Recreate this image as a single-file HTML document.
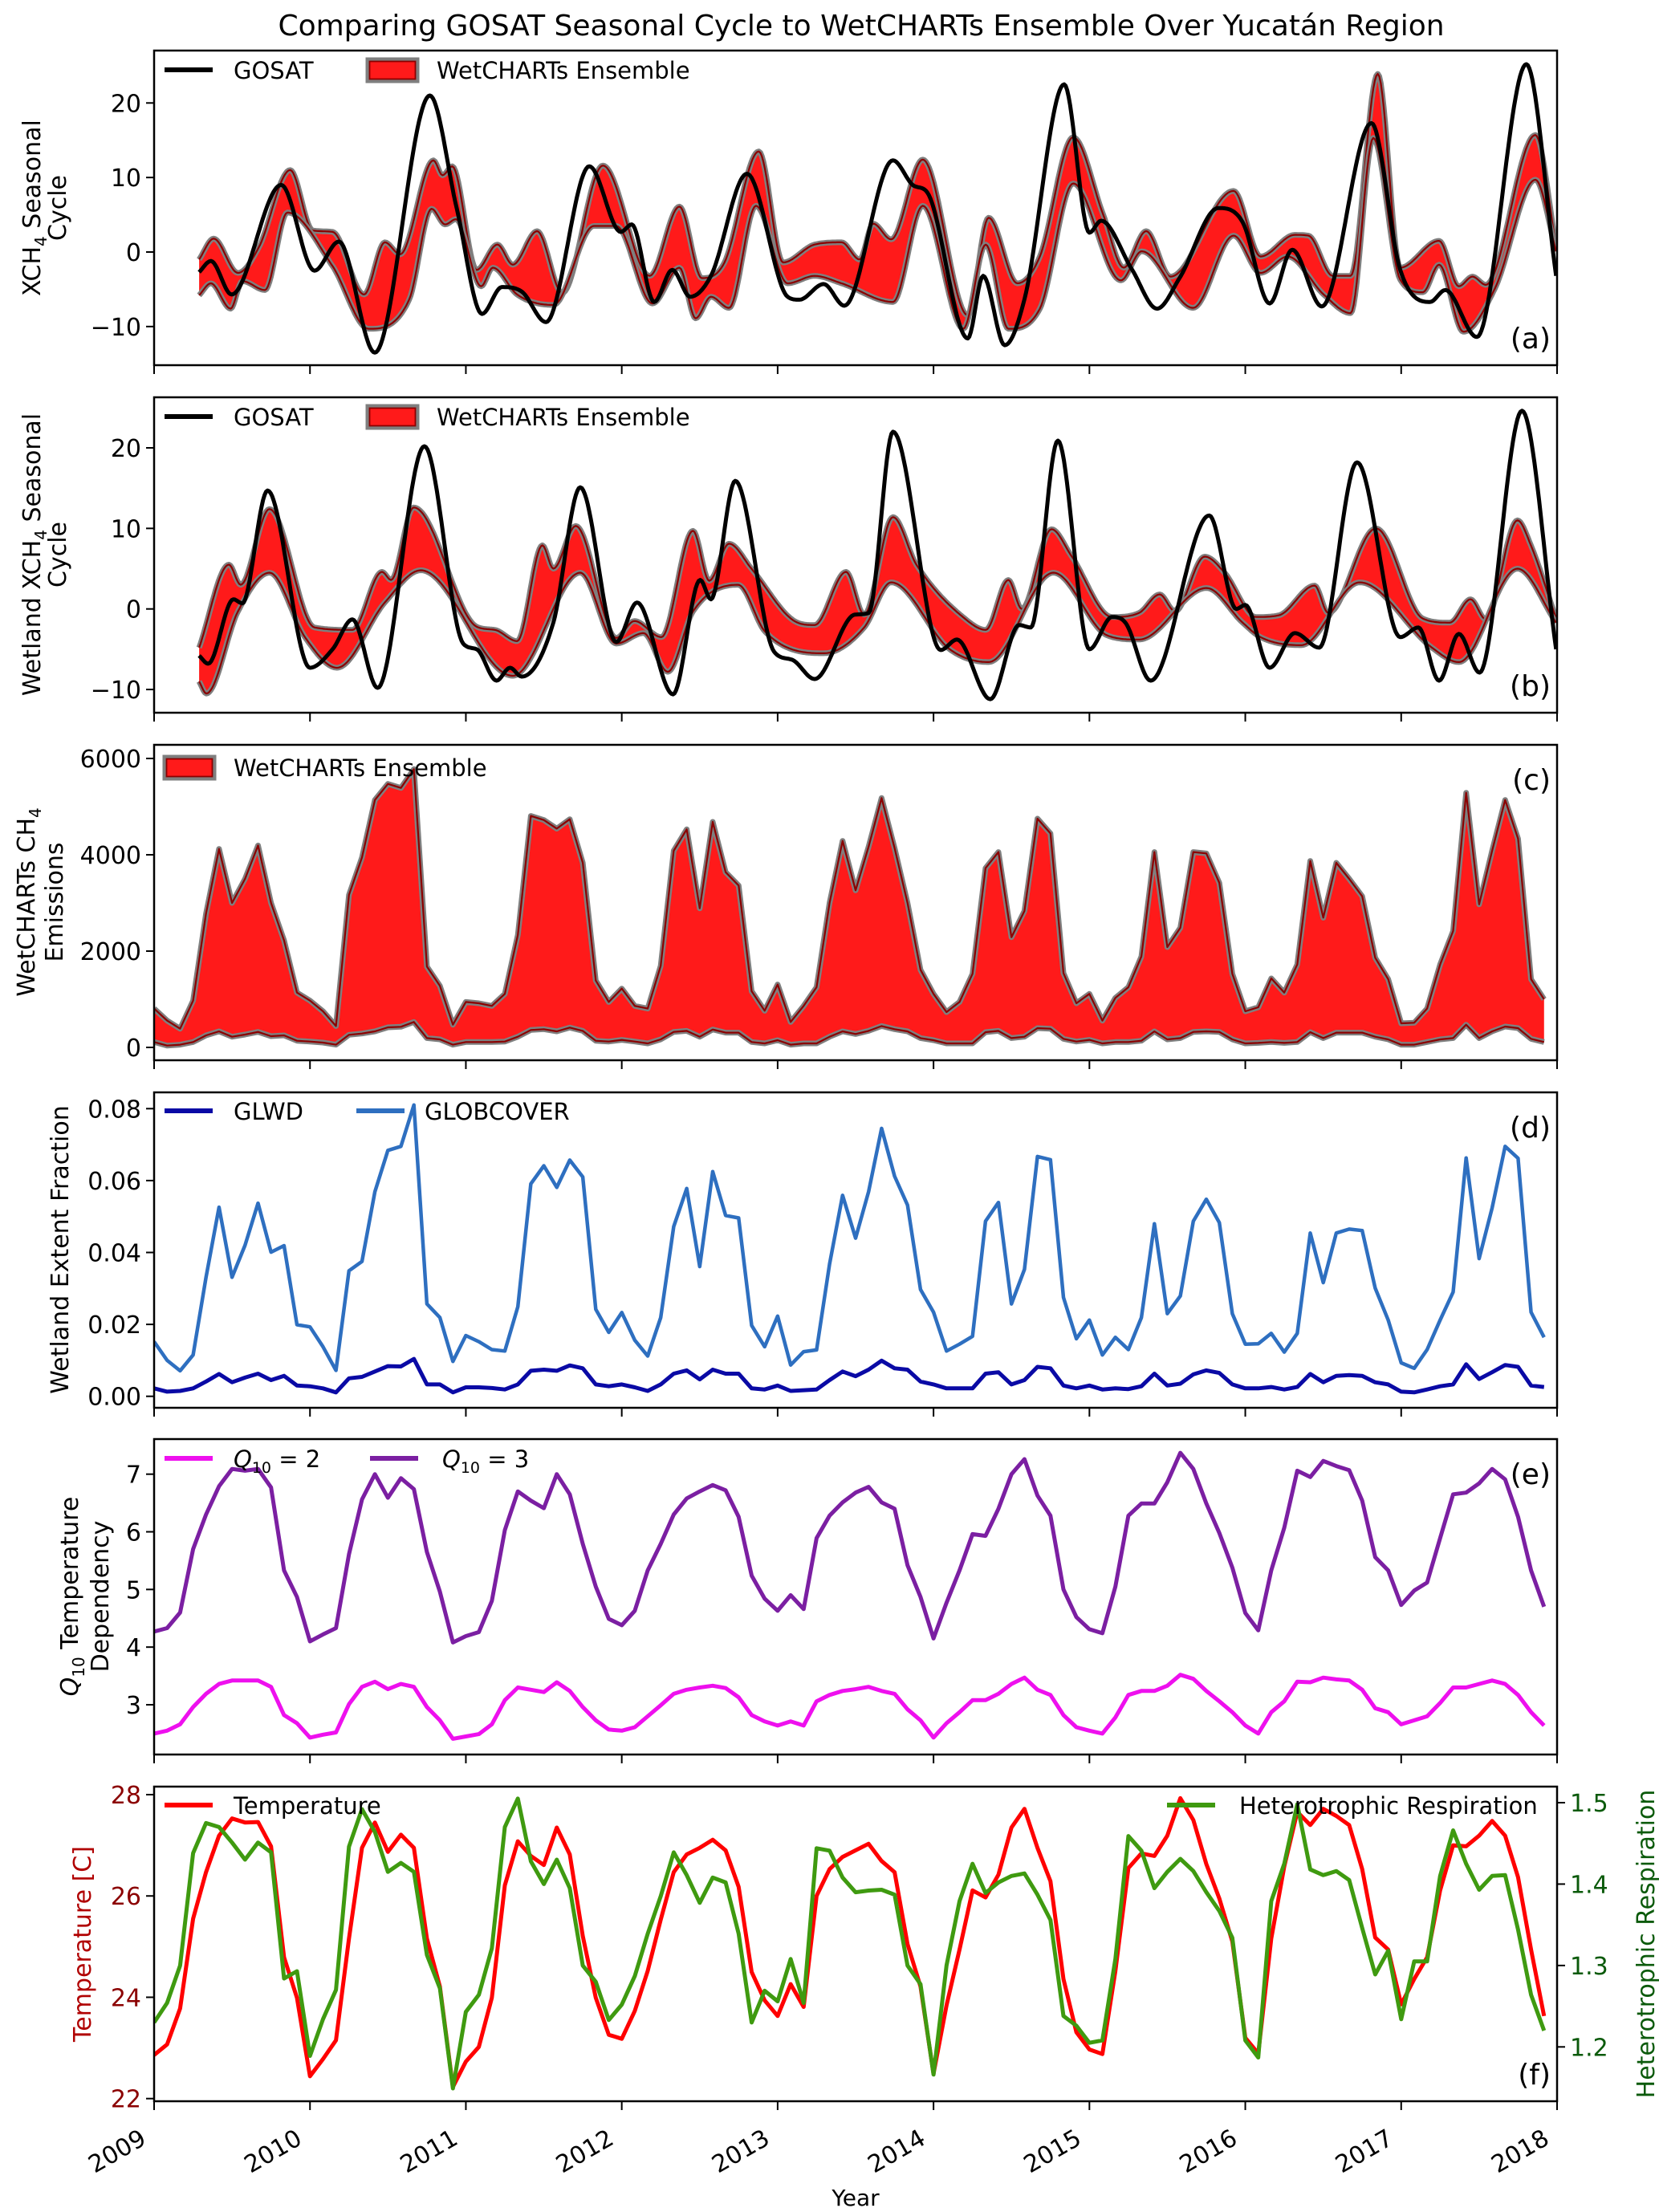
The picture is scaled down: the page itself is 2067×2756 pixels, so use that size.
<!DOCTYPE html>
<html><head><meta charset="utf-8"><title>GOSAT vs WetCHARTs, Yucatán region</title>
<style>
html,body{margin:0;padding:0;background:#fff;}
svg{display:block;font-family:"DejaVu Sans","Liberation Sans",sans-serif;}
</style></head>
<body>
<svg id="fig" xmlns="http://www.w3.org/2000/svg" width="2067" height="2756" viewBox="0 0 2067 2756"></svg>
<script>
// ---------------- DATA ----------------
const years = [2009,2010,2011,2012,2013,2014,2015,2016,2017,2018];
const tickA = [-10,0,10,20];
const tickC = [0,2000,4000,6000];
const tickD = [0,0.02,0.04,0.06,0.08];
const tickE = [3,4,5,6,7];
const tickFL = [22,24,26,28];
const tickFR = [1.2,1.3,1.4,1.5];

// (a) GOSAT seasonal cycle knots (decimal year offset from 2009, value)
const gosatA_t = [.289,.364,.497,.815,1.029,1.185,1.416,1.769,1.942,2.104,2.231,2.358,2.514,2.792,2.994,3.064,3.208,3.324,3.439,3.572,3.803,4.064,4.139,4.295,4.428,4.740,4.873,4.960,5.220,5.318,5.457,5.584,5.838,6.000,6.075,6.272,6.434,6.578,6.827,6.983,7.156,7.301,7.491,7.809,7.994,8.185,8.283,8.486,8.803,8.994];
const gosatA_v = [-2.7,-1.2,-5.7,9.0,-2.5,1.4,-13.5,21.0,5.8,-8.3,-4.7,-5.3,-9.4,11.5,2.7,3.7,-6.7,-2.4,-6.0,-3.2,10.5,-6.0,-6.4,-4.3,-7.2,12.3,8.9,8.0,-11.6,-3.2,-12.5,-6.3,22.5,2.6,4.2,-2.3,-7.6,-3.5,5.9,4.0,-6.9,0.3,-7.3,17.3,-2.4,-6.7,-5.1,-11.4,25.2,-3.2];
const wetAhi_t = [.289,.382,.538,.671,.873,1.017,1.145,1.347,1.480,1.578,1.792,1.850,1.913,2.069,2.202,2.301,2.457,2.618,2.879,3.179,3.370,3.514,3.659,3.879,4.035,4.237,4.410,4.526,4.613,4.728,4.931,5.220,5.353,5.538,5.682,5.896,6.087,6.220,6.364,6.520,6.925,7.098,7.318,7.405,7.561,7.676,7.850,7.994,8.243,8.370,8.457,8.543,8.861,8.994];
const wetAhi_v = [-1.0,1.8,-2.8,0.6,11.0,2.9,2.7,-5.7,1.3,-0.3,12.3,10.3,11.5,-2.4,1.0,-1.7,2.8,-5.5,11.6,-3.2,6.1,-3.5,-1.4,13.5,-1.4,1.0,1.3,-1.0,3.8,1.7,12.4,-8.5,4.6,-4.2,-0.6,15.4,5.1,-2.1,2.8,-3.3,8.2,-0.6,2.3,2.2,-3.2,-3.2,23.9,-2.1,1.5,-4.6,-3.3,-4.4,15.7,0.8];
const wetAlo_t = [.289,.364,.491,.566,.711,.855,1.145,1.376,1.636,1.780,1.867,1.936,2.098,2.173,2.329,2.561,2.821,2.965,3.197,3.370,3.474,3.572,3.688,3.861,4.064,4.237,4.410,4.740,4.931,5.191,5.335,5.480,5.682,5.896,6.202,6.335,6.665,6.925,7.098,7.272,7.503,7.676,7.821,7.994,8.139,8.243,8.399,8.601,8.861,8.994];
const wetAlo_v = [-5.8,-4.2,-7.6,-3.9,-5.1,5.3,-1.9,-10.3,-6.4,5.8,3.7,4.4,-4.6,-2.1,-5.7,-7.1,3.5,3.5,-6.9,-2.1,-8.9,-6.0,-7.5,6.2,-4.2,-3.2,-4.2,-6.7,6.2,-10.3,1.0,-10.3,-7.6,9.2,-3.8,0.1,-7.5,2.2,-2.8,-0.6,-5.7,-8.2,15.3,-3.7,-5.4,-1.7,-10.7,-4.9,9.7,0.1];

// (b) wetland-only seasonal cycle knots
const gosatB_t = [.289,.347,.509,.566,.728,1.000,1.145,1.272,1.434,1.734,1.983,2.069,2.197,2.283,2.358,2.561,2.734,2.965,3.098,3.329,3.503,3.572,3.728,3.977,4.092,4.237,4.497,4.584,4.740,5.046,5.150,5.364,5.549,5.624,5.798,6.000,6.145,6.231,6.393,6.769,6.942,7.000,7.156,7.318,7.474,7.717,7.994,8.110,8.243,8.370,8.503,8.775,8.994];
const gosatB_v = [-5.8,-6.8,1.2,0.7,14.7,-7.3,-5.0,-1.3,-9.8,20.2,-4.3,-5.0,-8.9,-7.3,-8.4,-1.7,15.1,-4.1,0.8,-10.6,3.6,1.2,15.9,-5.3,-6.3,-8.7,-0.7,-0.5,22.0,-5.1,-3.8,-11.2,-2.0,-2.3,20.9,-5.0,-1.0,-1.7,-8.9,11.6,0.0,0.5,-7.3,-3.0,-4.8,18.2,-3.5,-2.3,-8.9,-3.1,-7.9,24.6,-5.0];
const wetBhi_t = [.289,.480,.555,.740,1.029,1.272,1.462,1.520,1.665,2.069,2.185,2.329,2.491,2.561,2.705,2.965,3.081,3.254,3.457,3.561,3.688,3.832,4.092,4.237,4.439,4.555,4.740,4.890,5.220,5.335,5.480,5.566,5.757,5.884,6.145,6.318,6.451,6.549,6.740,6.867,7.069,7.214,7.445,7.532,7.838,8.139,8.312,8.445,8.543,8.746,8.832,8.994];
const wetBhi_v = [-4.8,5.5,3.0,12.4,-2.3,-2.6,4.6,3.6,12.6,-2.2,-2.6,-4.0,7.9,5.0,10.3,-3.6,-1.5,-3.5,9.7,3.5,8.1,5.0,-1.3,-2.0,4.6,-0.7,11.4,5.5,-1.5,-2.6,3.6,0.0,9.9,6.6,-1.0,-0.5,1.8,-0.3,6.5,4.5,-1.0,-0.8,2.9,-0.5,10.0,-1.2,-1.7,1.2,-1.3,11.0,7.9,-1.2];
const wetBlo_t = [.289,.335,.538,.740,.971,1.173,1.480,1.711,2.301,2.734,2.965,3.139,3.295,3.457,3.746,3.919,4.295,4.555,4.728,5.104,5.353,5.769,6.116,6.318,6.751,6.983,7.098,7.358,7.734,8.197,8.370,8.746,8.994];
const wetBlo_v = [-9.0,-10.5,-0.3,4.5,-3.6,-7.3,0.8,4.8,-8.3,4.5,-4.3,-3.0,-7.8,-0.3,3.0,-2.8,-5.5,-2.3,3.3,-5.0,-6.6,4.5,-3.3,-3.8,2.6,-1.7,-3.5,-4.5,3.3,-4.8,-6.6,5.0,-1.7];

// (c) WetCHARTs CH4 emissions, monthly Jan 2009 - Dec 2017
const emisHi = [806,556,389,972,2778,4122,3000,3500,4194,3000,2222,1139,972,750,444,3167,3944,5139,5472,5389,5778,1678,1278,472,944,917,861,1111,2333,4806,4722,4544,4739,3833,1389,944,1222,861,806,1694,4083,4528,2889,4683,3639,3361,1167,761,1306,528,861,1250,3000,4289,3261,4167,5178,4139,3000,1611,1111,733,944,1528,3722,4056,2289,2833,4750,4444,1544,917,1111,556,1028,1250,1889,4056,2083,2483,4056,4028,3417,1528,750,833,1433,1139,1722,3872,2694,3833,3500,3139,1861,1417,500,511,806,1722,2417,5289,2972,4083,5139,4333,1417,1000];
const emisLo = [111,39,56,111,250,333,222,267,322,233,250,139,122,100,56,261,289,333,417,428,528,194,167,56,111,111,111,122,222,361,378,333,411,344,139,122,156,122,83,167,322,344,222,372,306,306,111,83,150,56,83,83,222,333,278,344,444,378,333,194,150,83,83,83,317,344,194,222,400,389,178,122,156,83,111,111,139,333,167,194,322,333,322,167,83,94,111,94,111,317,194,306,306,306,222,167,56,56,111,167,194,472,194,333,433,400,178,111];

// (d) wetland extent fraction
const glwd = [.0022,.0013,.0015,.0022,.0041,.0062,.0039,.0052,.0063,.0045,.0057,.0030,.0028,.0022,.0011,.0050,.0054,.0069,.0084,.0083,.0104,.0033,.0033,.0011,.0025,.0025,.0023,.0019,.0033,.0071,.0074,.0071,.0086,.0078,.0033,.0028,.0033,.0025,.0015,.0033,.0063,.0072,.0047,.0074,.0063,.0063,.0022,.0019,.0030,.0015,.0017,.0019,.0045,.0069,.0056,.0074,.0099,.0078,.0074,.0041,.0033,.0022,.0022,.0022,.0063,.0067,.0033,.0045,.0082,.0078,.0030,.0022,.0030,.0019,.0022,.0020,.0028,.0063,.0030,.0035,.0061,.0072,.0065,.0033,.0022,.0022,.0026,.0019,.0026,.0062,.0039,.0057,.0059,.0057,.0039,.0033,.0013,.0011,.0019,.0028,.0033,.0089,.0048,.0067,.0087,.0082,.0030,.0026];
const globcover = [.0152,.0100,.0071,.0115,.0331,.0526,.0331,.0420,.0537,.0401,.0419,.0199,.0193,.0138,.0072,.0349,.0375,.0569,.0684,.0695,.0810,.0257,.0219,.0097,.0169,.0152,.0130,.0126,.0249,.0591,.0641,.0581,.0657,.0610,.0242,.0178,.0233,.0156,.0112,.0219,.0472,.0578,.0361,.0625,.0503,.0496,.0197,.0138,.0223,.0087,.0124,.0129,.0368,.0559,.0440,.0569,.0745,.0612,.0532,.0297,.0234,.0126,.0145,.0167,.0487,.0539,.0257,.0353,.0667,.0658,.0275,.0160,.0212,.0115,.0164,.0130,.0219,.0480,.0230,.0279,.0487,.0548,.0483,.0230,.0145,.0146,.0175,.0123,.0175,.0454,.0316,.0454,.0465,.0461,.0301,.0212,.0093,.0078,.0130,.0212,.0290,.0663,.0383,.0524,.0695,.0662,.0234,.0164];

// (e) Q10 temperature dependency
const q10_2 = [2.50,2.55,2.66,2.96,3.19,3.36,3.42,3.42,3.42,3.31,2.82,2.68,2.43,2.48,2.52,3.01,3.31,3.40,3.27,3.36,3.31,2.96,2.73,2.41,2.45,2.49,2.66,3.08,3.30,3.26,3.22,3.39,3.24,2.96,2.73,2.57,2.55,2.61,2.80,2.99,3.19,3.26,3.30,3.33,3.29,3.13,2.82,2.71,2.64,2.71,2.64,3.06,3.17,3.24,3.27,3.31,3.24,3.19,2.92,2.73,2.43,2.68,2.87,3.08,3.08,3.19,3.36,3.47,3.26,3.17,2.82,2.61,2.55,2.50,2.78,3.17,3.24,3.24,3.33,3.52,3.45,3.24,3.06,2.87,2.64,2.50,2.87,3.06,3.40,3.39,3.47,3.44,3.42,3.26,2.94,2.87,2.66,2.73,2.80,3.03,3.30,3.30,3.36,3.42,3.36,3.17,2.87,2.64];
const q10_3 = [4.27,4.33,4.60,5.70,6.30,6.79,7.09,7.06,7.09,6.77,5.33,4.87,4.10,4.22,4.33,5.61,6.56,7.00,6.59,6.93,6.74,5.65,4.96,4.08,4.19,4.26,4.80,6.03,6.70,6.54,6.41,7.00,6.65,5.79,5.05,4.49,4.38,4.63,5.33,5.79,6.30,6.58,6.70,6.81,6.72,6.26,5.24,4.84,4.63,4.90,4.66,5.89,6.28,6.51,6.68,6.78,6.51,6.40,5.42,4.87,4.15,4.77,5.33,5.96,5.93,6.40,7.00,7.26,6.63,6.28,5.00,4.52,4.31,4.24,5.05,6.28,6.49,6.49,6.86,7.37,7.09,6.49,5.98,5.38,4.59,4.29,5.33,6.07,7.06,6.95,7.23,7.14,7.07,6.54,5.56,5.33,4.73,4.98,5.12,5.89,6.65,6.68,6.84,7.09,6.91,6.26,5.33,4.70];

// (f) temperature and heterotrophic respiration
const temperature = [22.86,23.07,23.78,25.55,26.47,27.19,27.53,27.45,27.46,26.98,24.79,23.99,22.44,22.78,23.15,25.16,26.95,27.45,26.87,27.21,26.95,25.16,24.21,22.23,22.73,23.02,23.99,26.21,27.08,26.79,26.61,27.35,26.82,25.21,23.99,23.26,23.18,23.73,24.52,25.53,26.47,26.82,26.95,27.11,26.90,26.18,24.50,23.94,23.63,24.26,23.81,26.00,26.53,26.77,26.90,27.03,26.69,26.47,25.05,24.21,22.49,23.84,24.94,26.11,25.97,26.42,27.35,27.72,26.95,26.29,24.36,23.31,22.97,22.88,24.52,26.55,26.84,26.79,27.19,27.93,27.50,26.63,25.95,25.10,23.20,22.89,25.16,26.58,27.66,27.40,27.72,27.58,27.40,26.53,25.18,24.94,23.86,24.36,24.79,26.11,27.00,26.98,27.19,27.48,27.19,26.37,24.94,23.63];
const respiration = [1.230,1.254,1.300,1.438,1.475,1.470,1.451,1.430,1.451,1.439,1.284,1.293,1.189,1.234,1.270,1.446,1.492,1.464,1.415,1.426,1.415,1.313,1.272,1.149,1.243,1.264,1.321,1.470,1.505,1.428,1.400,1.430,1.395,1.300,1.280,1.233,1.252,1.287,1.339,1.385,1.439,1.411,1.377,1.408,1.402,1.339,1.230,1.269,1.256,1.308,1.254,1.444,1.441,1.408,1.390,1.392,1.393,1.387,1.300,1.277,1.166,1.300,1.379,1.425,1.389,1.402,1.410,1.413,1.387,1.356,1.238,1.226,1.205,1.208,1.308,1.459,1.441,1.395,1.415,1.431,1.416,1.390,1.367,1.334,1.208,1.187,1.379,1.425,1.498,1.418,1.411,1.416,1.405,1.346,1.289,1.318,1.234,1.305,1.305,1.410,1.466,1.425,1.393,1.410,1.411,1.344,1.264,1.220];

// ---------------- DRAWING ----------------
const NS = "http://www.w3.org/2000/svg";
const svg = document.getElementById('fig');
const XL = 192, XR = 1940;
function xOf(t){ return XL + (t - 2009) / 9 * (XR - XL); }
function lin(v1, p1, v2, p2){ return v => p1 + (v - v1) * (p2 - p1) / (v2 - v1); }
function el(tag, attrs, parent){
  const e = document.createElementNS(NS, tag);
  for (const k in attrs) e.setAttribute(k, attrs[k]);
  (parent || svg).appendChild(e);
  return e;
}
const monthT = emisHi.map((_, i) => 2009 + i / 12);

const panels = [
  {id:'a', top:63,   bot:455,  y: lin(20,128.3,0,314)},
  {id:'b', top:495,  bot:888,  y: lin(20,558,0,758.7)},
  {id:'c', top:928,  bot:1321, y: lin(6000,945,0,1305)},
  {id:'d', top:1361, bot:1754, y: lin(0.08,1381.3,0,1739.7)},
  {id:'e', top:1793, bot:2186, y: lin(7,1836.7,3,2124)},
  {id:'f', top:2226, bot:2618, y: lin(28,2236,22,2614.7)}
];
const yFR = lin(1.5,2246,1.2,2550.3);

const defs = el('defs', {});
panels.forEach(p => {
  const cp = el('clipPath', {id:'clip-' + p.id}, defs);
  el('rect', {x:XL, y:p.top, width:XR-XL, height:p.bot-p.top}, cp);
});

function monoSample(xs, ys, step){
  const n = xs.length, d = [], m = new Array(n).fill(0);
  for (let k = 0; k < n-1; k++) d.push((ys[k+1]-ys[k])/(xs[k+1]-xs[k]));
  m[0] = d[0]; m[n-1] = d[n-2];
  for (let k = 1; k < n-1; k++) m[k] = (d[k-1]*d[k] <= 0) ? 0 : (d[k-1]+d[k])/2;
  for (let k = 0; k < n-1; k++){
    if (d[k] === 0){ m[k] = 0; m[k+1] = 0; continue; }
    const a = m[k]/d[k], b = m[k+1]/d[k], s = a*a + b*b;
    if (s > 9){ const tau = 3/Math.sqrt(s); m[k] = tau*a*d[k]; m[k+1] = tau*b*d[k]; }
  }
  const out = [];
  for (let k = 0; k < n-1; k++){
    const h = xs[k+1]-xs[k];
    const steps = Math.max(2, Math.ceil(h/step));
    for (let j = 0; j < steps; j++){
      const t = j/steps, t2 = t*t, t3 = t2*t;
      const v = (2*t3-3*t2+1)*ys[k] + (t3-2*t2+t)*h*m[k] + (-2*t3+3*t2)*ys[k+1] + (t3-t2)*h*m[k+1];
      out.push([xs[k] + t*h, v]);
    }
  }
  out.push([xs[n-1], ys[n-1]]);
  return out;
}
function pts2path(pts, y){ return pts.map((p,i)=>(i?'L':'M')+xOf(p[0]).toFixed(1)+','+y(p[1]).toFixed(1)).join(''); }
function absT(arr){ return arr.map(t => 2009 + t); }

function band(p, hiT, hiV, loT, loV, name){
  const hi = monoSample(absT(hiT), hiV, 0.01);
  const lo = monoSample(absT(loT), loV, 0.01);
  const g = el('g', {'clip-path':'url(#clip-'+p.id+')'});
  
  
  const d = pts2path(hi, p.y) + pts2path(lo.slice().reverse(), p.y).replace('M','L') + 'Z';
  const f = el('path', {d:d, fill:'#ff1a1a', stroke:'none'}, g);
  
  
  [hi, lo].forEach(arr => {
    el('path', {d:pts2path(arr, p.y), fill:'none', stroke:'#7f7f7f', 'stroke-width':7, 'stroke-linejoin':'round'}, g);
    el('path', {d:pts2path(arr, p.y), fill:'none', stroke:'#8b0000', 'stroke-width':2.2, 'stroke-linejoin':'round'}, g);
  });
}
function smoothLine(p, ts, vs, color, w, name){
  const pts = monoSample(absT(ts), vs, 0.01);
  const e = el('path', {d:pts2path(pts, p.y), fill:'none', stroke:color, 'stroke-width':w, 'stroke-linejoin':'round', 'clip-path':'url(#clip-'+p.id+')'});
  
  
}
function monthLine(p, vals, y, color, w, name){
  const d = vals.map((v,i)=>(i?'L':'M')+xOf(monthT[i]).toFixed(1)+','+y(v).toFixed(1)).join('');
  const e = el('path', {d:d, fill:'none', stroke:color, 'stroke-width':w, 'stroke-linejoin':'round', 'clip-path':'url(#clip-'+p.id+')'});
  
  
}
function monthBand(p, hi, lo, name){
  const g = el('g', {'clip-path':'url(#clip-'+p.id+')'});
  
  
  let d = hi.map((v,i)=>(i?'L':'M')+xOf(monthT[i]).toFixed(1)+','+p.y(v).toFixed(1)).join('');
  for (let i = lo.length-1; i >= 0; i--) d += 'L'+xOf(monthT[i]).toFixed(1)+','+p.y(lo[i]).toFixed(1);
  el('path', {d:d+'Z', fill:'#ff1a1a'}, g);
  [hi, lo].forEach(arr => {
    const dd = arr.map((v,i)=>(i?'L':'M')+xOf(monthT[i]).toFixed(1)+','+p.y(v).toFixed(1)).join('');
    el('path', {d:dd, fill:'none', stroke:'#7f7f7f', 'stroke-width':7, 'stroke-linejoin':'round'}, g);
    el('path', {d:dd, fill:'none', stroke:'#8b0000', 'stroke-width':2.2, 'stroke-linejoin':'round'}, g);
  });
}
function txt(x, y, s, attrs, name){
  const a = Object.assign({x:x, y:y, 'font-size':30, fill:'#000'}, attrs || {});
  const e = el('text', a);
  e.textContent = s;
  
  
  return e;
}
function yTicks(p, ticks, fmt, color){
  ticks.forEach(v => {
    const y = p.y(v);
    el('line', {x1:XL-10, y1:y, x2:XL, y2:y, stroke:'#000', 'stroke-width':2});
    txt(XL-16, y+11, fmt(v), {'text-anchor':'end', fill: color || '#000'}, 'y-tick-label-' + p.id);
  });
}
function xTicks(p, labels){
  years.forEach(yr => {
    const x = xOf(yr);
    el('line', {x1:x, y1:p.bot, x2:x, y2:p.bot+11, stroke:'#000', 'stroke-width':2});
    if (labels){
      txt(0, 0, String(yr), {'text-anchor':'end', transform:'translate('+(x-8)+','+(p.bot+52)+') rotate(-30)'}, 'x-tick-label');
    }
  });
}
function frame(p){
  const r = el('rect', {x:XL, y:p.top, width:XR-XL, height:p.bot-p.top, fill:'none', stroke:'#000', 'stroke-width':2.5});
  
  
}
function legLine(x1, y, color, w, name){
  const e = el('line', {x1:x1, y1:y, x2:x1+60, y2:y, stroke:color, 'stroke-width':w});
  
  
}
function legPatch(x1, y, name){
  const e = el('rect', {x:x1, y:y-13, width:62, height:27, fill:'#ff1a1a', stroke:'#7f7f7f', 'stroke-width':5});
  
  
  el('rect', {x:x1+2.5, y:y-10.5, width:57, height:22, fill:'none', stroke:'#8b0000', 'stroke-width':1.8});
}
function panelLetter(p, s, atTop){
  txt(1932, atTop ? p.top+56 : p.bot-21, s, {'text-anchor':'end', 'font-size':36}, 'panel-label-' + p.id);
}
function rotLabel(cx, cy, parts, color, name){
  const t = el('text', {transform:'translate('+cx+','+cy+') rotate(-90)', 'text-anchor':'middle', 'font-size':30, fill:color||'#000'});
  
  
  parts.forEach(pt => {
    const s = el('tspan', pt.a || {}, t);
    s.textContent = pt.s;
  });
  return t;
}
const fmtInt = v => (v < 0 ? '\u2212' : '') + Math.abs(v);
const LF = 29;

txt(1073, 44, 'Comparing GOSAT Seasonal Cycle to WetCHARTs Ensemble Over Yucatán Region', {'text-anchor':'middle', 'font-size':36}, 'chart-title');

// ---- (a)
const pa = panels[0];
band(pa, wetAhi_t, wetAhi_v, wetAlo_t, wetAlo_v, 'wetcharts-band-a');
smoothLine(pa, gosatA_t, gosatA_v, '#000', 5, 'gosat-line-a');
frame(pa); yTicks(pa, tickA, fmtInt); xTicks(pa, false);
legLine(205, 87, '#000', 6, 'legend-gosat-a'); txt(291, 98, 'GOSAT', {'font-size':LF}, 'legend-text-gosat-a');
legPatch(458, 87, 'legend-wetcharts-a'); txt(544, 98, 'WetCHARTs Ensemble', {'font-size':LF}, 'legend-text-wetcharts-a');
panelLetter(pa, '(a)', false);
rotLabel(50, 259, [{s:'XCH'},{s:'4', a:{'font-size':20, dy:8}},{s:' Seasonal', a:{dy:-8}}], '#000', 'y-axis-title-a');
rotLabel(82, 259, [{s:'Cycle'}], '#000', 'y-axis-title-a-2');

// ---- (b)
const pb = panels[1];
band(pb, wetBhi_t, wetBhi_v, wetBlo_t, wetBlo_v, 'wetcharts-band-b');
smoothLine(pb, gosatB_t, gosatB_v, '#000', 5, 'gosat-line-b');
frame(pb); yTicks(pb, tickA, fmtInt); xTicks(pb, false);
legLine(205, 519, '#000', 6, 'legend-gosat-b'); txt(291, 530, 'GOSAT', {'font-size':LF}, 'legend-text-gosat-b');
legPatch(458, 519, 'legend-wetcharts-b'); txt(544, 530, 'WetCHARTs Ensemble', {'font-size':LF}, 'legend-text-wetcharts-b');
panelLetter(pb, '(b)', false);
rotLabel(50, 691, [{s:'Wetland XCH'},{s:'4', a:{'font-size':20, dy:8}},{s:' Seasonal', a:{dy:-8}}], '#000', 'y-axis-title-b');
rotLabel(82, 691, [{s:'Cycle'}], '#000', 'y-axis-title-b-2');

// ---- (c)
const pc = panels[2];
monthBand(pc, emisHi, emisLo, 'wetcharts-emissions-band');
frame(pc); yTicks(pc, tickC, v => String(v)); xTicks(pc, false);
legPatch(205, 956, 'legend-wetcharts-c'); txt(291, 967, 'WetCHARTs Ensemble', {'font-size':LF}, 'legend-text-wetcharts-c');
panelLetter(pc, '(c)', true);
rotLabel(43, 1124, [{s:'WetCHARTs CH'},{s:'4', a:{'font-size':20, dy:8}}], '#000', 'y-axis-title-c');
rotLabel(78, 1124, [{s:'Emissions'}], '#000', 'y-axis-title-c-2');

// ---- (d)
const pd = panels[3];
monthLine(pd, globcover, pd.y, '#2e6fc0', 4.5, 'globcover-line');
monthLine(pd, glwd, pd.y, '#0a0aa5', 5, 'glwd-line');
frame(pd); yTicks(pd, tickD, v => v.toFixed(2)); xTicks(pd, false);
legLine(205, 1384, '#0a0aa5', 6, 'legend-glwd'); txt(291, 1395, 'GLWD', {'font-size':LF}, 'legend-text-glwd');
legLine(444, 1384, '#2e6fc0', 6, 'legend-globcover'); txt(529, 1395, 'GLOBCOVER', {'font-size':LF}, 'legend-text-globcover');
panelLetter(pd, '(d)', true);
rotLabel(85, 1557, [{s:'Wetland Extent Fraction'}], '#000', 'y-axis-title-d');

// ---- (e)
const pe = panels[4];
monthLine(pe, q10_3, pe.y, '#7b1fa2', 5, 'q10-3-line');
monthLine(pe, q10_2, pe.y, '#ee10ee', 5, 'q10-2-line');
frame(pe); yTicks(pe, tickE, v => String(v)); xTicks(pe, false);
legLine(205, 1817, '#ee10ee', 6, 'legend-q10-2');
(function(){
  const t = el('text', {x:291, y:1828, 'font-size':LF});
  
  
  const a = el('tspan', {'font-style':'italic'}, t); a.textContent = 'Q';
  const b = el('tspan', {'font-size':19, dy:7}, t); b.textContent = '10';
  const c = el('tspan', {dy:-7}, t); c.textContent = ' = 2';
})();
legLine(461, 1817, '#7b1fa2', 6, 'legend-q10-3');
(function(){
  const t = el('text', {x:551, y:1828, 'font-size':LF});
  
  
  const a = el('tspan', {'font-style':'italic'}, t); a.textContent = 'Q';
  const b = el('tspan', {'font-size':19, dy:7}, t); b.textContent = '10';
  const c = el('tspan', {dy:-7}, t); c.textContent = ' = 3';
})();
panelLetter(pe, '(e)', true);
rotLabel(97, 1989, [{s:'Q', a:{'font-style':'italic'}},{s:'10', a:{'font-size':20, dy:8}},{s:' Temperature', a:{dy:-8}}], '#000', 'y-axis-title-e');
rotLabel(135, 1989, [{s:'Dependency'}], '#000', 'y-axis-title-e-2');

// ---- (f)
const pf = panels[5];
monthLine(pf, temperature, pf.y, '#ff0000', 5, 'temperature-line');
monthLine(pf, respiration, yFR, '#3f9a10', 5, 'respiration-line');
frame(pf); yTicks(pf, tickFL, v => String(v), '#8b0000'); xTicks(pf, true);
tickFR.forEach(v => {
  const y = yFR(v);
  el('line', {x1:XR, y1:y, x2:XR+10, y2:y, stroke:'#000', 'stroke-width':2});
  txt(XR+16, y+11, v.toFixed(1), {fill:'#0b5a0b'}, 'right-y-tick-label');
});
legLine(205, 2249, '#ff0000', 6, 'legend-temperature'); txt(291, 2260, 'Temperature', {'font-size':LF}, 'legend-text-temperature');
legLine(1454, 2249, '#3f9a10', 6, 'legend-respiration'); txt(1544, 2260, 'Heterotrophic Respiration', {'font-size':LF}, 'legend-text-respiration');
panelLetter(pf, '(f)', false);
rotLabel(113, 2422, [{s:'Temperature [C]'}], '#b00000', 'y-axis-title-temperature');
rotLabel(2061, 2422, [{s:'Heterotrophic Respiration'}], '#0b5a0b', 'y-axis-title-respiration');
txt(1066, 2748, 'Year', {'text-anchor':'middle', 'font-size':28}, 'x-axis-title');
</script>
</body></html>
